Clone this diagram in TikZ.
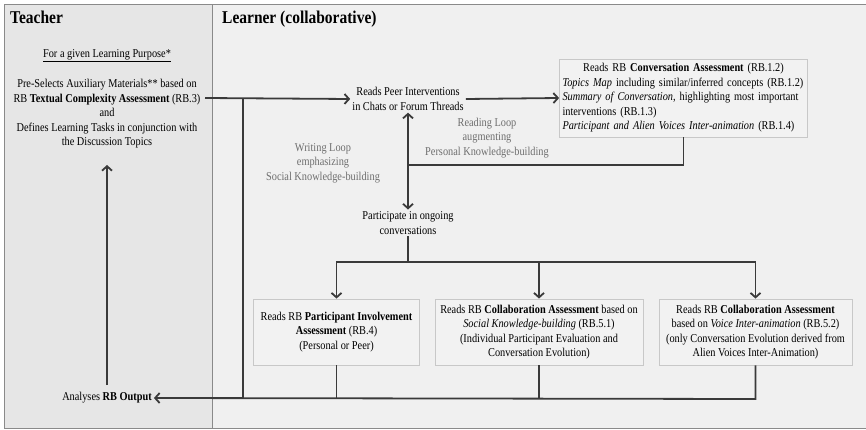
\documentclass[tikz,border=0pt]{standalone}
\usepackage{fontspec}
\setmainfont{Liberation Serif}[FakeStretch=0.86]
\usetikzlibrary{arrows.meta}
\definecolor{teachbg}{HTML}{E6E6E6}
\definecolor{learnbg}{HTML}{F0F0F0}
\definecolor{framec}{HTML}{8A8A8A}
\definecolor{boxline}{HTML}{C8C8C8}
\definecolor{boxfill}{HTML}{F2F2F2}
\definecolor{conn}{HTML}{3A3A3A}
\definecolor{loopc}{HTML}{6E6E6E}
\tikzset{
  txt/.style={font=\fontsize{12}{14.5}\selectfont, align=center, inner sep=2pt, text=black},
  rbbox/.style={txt, draw=boxline, fill=boxfill, line width=0.8pt, minimum height=66pt},
  looplbl/.style={txt, text=loopc},
  title/.style={font=\fontsize{18}{20}\selectfont\bfseries, anchor=base west, inner sep=0pt},
  conline/.style={draw=conn, line width=1.8pt},
  arr/.style={conline, -{Straight Barb[length=4.5pt,width=10pt]}},
  darr/.style={conline, {Straight Barb[length=4.5pt,width=10pt]}-{Straight Barb[length=4.5pt,width=10pt]}},
}
\begin{document}
\begin{tikzpicture}[x=1pt,y=-1pt]
\useasboundingbox (0,0) rectangle (866,430);
% panels
\fill[teachbg] (4,5) rectangle (212,428);
\fill[learnbg] (212,5) rectangle (870,428);
\draw[framec, line width=1pt] (870,5) -- (4,5) -- (4,428) -- (870,428);
\draw[framec, line width=0.8pt] (212,5) -- (212,428);
% titles
\node[title] (tT) at (10,24) {Teacher};
\node[title] (tL) at (222,24) {Learner (collaborative)};
% teacher side
\node[txt] (purpose) at (107,56) {\underline{For a given Learning Purpose*}};
\node[txt] (teach) at (107,114) {Pre-Selects Auxiliary Materials** based on\\
RB \textbf{Textual Complexity Assessment} (RB.3)\\
and\\
Defines Learning Tasks in conjunction with\\
the Discussion Topics};
\coordinate (tout) at (205,98);
\node[txt] (analyses) at (107,398) {Analyses \textbf{RB Output}};
\coordinate (aup) at (107,385);
\coordinate (aupend) at (107,165);
% learner side
\node[txt] (peer) at (408,99) {Reads Peer Interventions\\in Chats or Forum Threads};
\node[txt, draw=boxline, fill=boxfill, line width=0.8pt, align=left, minimum width=248pt, minimum height=78pt, text width=242pt] (conv) at (683.5,98)
 {\hfill Reads RB \textbf{Conversation Assessment} (RB.1.2)\hfill\null\\
\textit{Topics Map} including similar/inferred concepts (RB.1.2)\\
\textit{Summary of Conversation}, highlighting most important\\
interventions (RB.1.3)\\
\textit{Participant and Alien Voices Inter-animation} (RB.1.4)};
\node[looplbl] (reading) at (487,138) {Reading Loop\\augmenting\\Personal Knowledge-building};
\node[looplbl] (writing) at (323,163) {Writing Loop\\emphasizing\\Social Knowledge-building};
\node[txt] (part) at (408,223) {Participate in ongoing\\conversations};
\node[rbbox, minimum width=166pt] (b1) at (336.5,332) {Reads RB \textbf{Participant Involvement}\\\textbf{Assessment} (RB.4)\\(Personal or Peer)};
\node[rbbox, minimum width=208pt] (b2) at (539,332) {Reads RB \textbf{Collaboration Assessment} based on\\\textit{Social Knowledge-building} (RB.5.1)\\(Individual Participant Evaluation and\\Conversation Evolution)};
\node[rbbox, minimum width=193pt] (b3) at (755.5,332) {Reads RB \textbf{Collaboration Assessment}\\based on \textit{Voice Inter-animation} (RB.5.2)\\(only Conversation Evolution derived from\\Alien Voices Inter-Animation)};
% junction coordinates
\coordinate (vtop) at (243,98);
\coordinate (vbot) at (243,399);
\coordinate (rj) at (408,165);
\coordinate (pdown) at (408,262);
\coordinate (bot3) at (755.5,399);
% connectors
\draw[arr] (tout) -- (peer.west);
\draw[arr] (peer.east) -- (conv.west);
\draw[conline] (conv.south) |- (rj);
\draw[darr] (peer.south) -- (part.north);
\draw[conline] (part.south) -- (pdown);
\draw[arr] (pdown) -| (b1.north);
\draw[arr] (pdown) -| (b3.north);
\draw[arr] (b2.north |- pdown) -- (b2.north);
\draw[conline] (vtop) -- (vbot);
\draw[conline] (b1.south) -- (b1.south |- bot3);
\draw[conline] (b2.south) -- (b2.south |- bot3);
\draw[arr] (b3.south) -- (bot3) -- (analyses.east);
\draw[arr] (aup) -- (aupend);
\end{tikzpicture}
\end{document}
